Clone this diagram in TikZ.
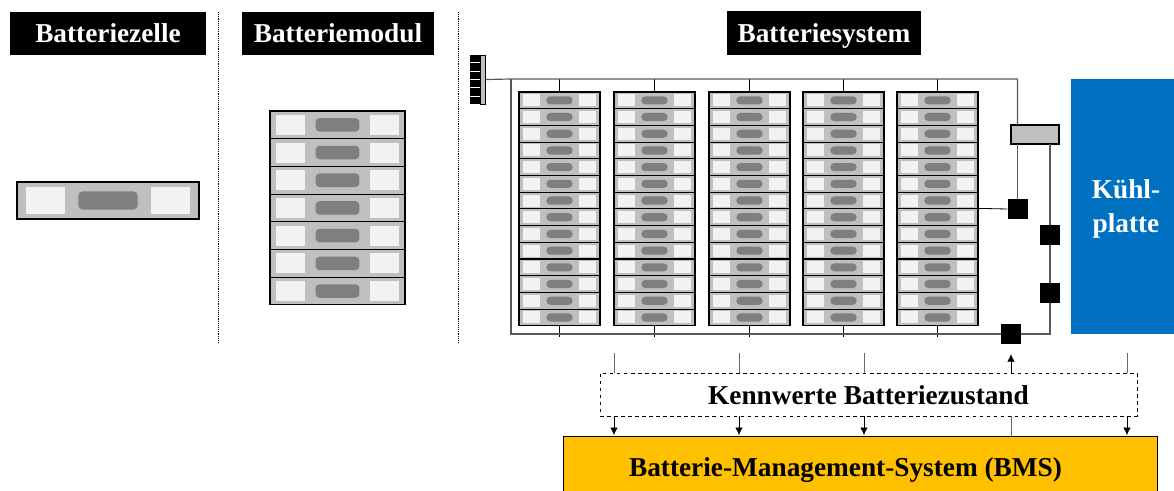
\documentclass[tikz,border=0pt]{standalone}
\usepackage{fontspec}
\setmainfont{Liberation Serif}
\usepackage{xcolor}
\usetikzlibrary{positioning,calc,arrows.meta}
\definecolor{cellgray}{HTML}{BFBFBF}
\definecolor{tabgray}{HTML}{F2F2F2}
\definecolor{pillgray}{HTML}{7F7F7F}
\definecolor{plateblue}{HTML}{0070C0}
\definecolor{bmsyellow}{HTML}{FFC000}
\tikzset{
  cellbody/.style={rectangle,draw=black,fill=cellgray,line width=0.9pt,inner sep=0pt},
  celltab/.style={rectangle,fill=tabgray,inner sep=0pt},
  cellpill/.style={rectangle,rounded corners=1.2mm,fill=pillgray,inner sep=0pt},
  titlebox/.style={rectangle,fill=black,text=white,font=\fontsize{23.3}{27}\selectfont\bfseries,minimum height=12.9mm,inner sep=0pt,text height=5.5mm,text depth=0.1mm},
  sensor/.style={rectangle,fill=black,minimum width=6mm,minimum height=6mm,inner sep=0pt},
  tooth/.style={rectangle,fill=black,minimum width=3mm,minimum height=2.2mm,inner sep=0pt},
  busline/.style={draw=black!65,line width=1pt},
  stub/.style={draw=black!60,line width=0.5pt},
  tapline/.style={draw=black,line width=0.7pt},
  sigarrow/.style={-{Latex[length=2.2mm,width=2.2mm]},black,line width=0.5pt},
  septline/.style={densely dotted,line width=0.6pt}
}
% name, centre x, centre y, width, height
\newcommand{\battcell}[5]{%
  \node[cellbody,minimum width=#4*0.3mm,minimum height=#5*0.3mm] (#1) at (#2,#3) {};
  \node[celltab,minimum width=#4*0.0645mm,minimum height=#5*0.216mm] (#1l) at ({#2-#4*0.345},#3) {};
  \node[celltab,minimum width=#4*0.0645mm,minimum height=#5*0.216mm] (#1r) at ({#2+#4*0.345},#3) {};
  \node[cellpill,minimum width=#4*0.0975mm,minimum height=#5*0.147mm] (#1p) at (#2,#3) {};
}
\begin{document}
\begin{tikzpicture}[x=0.3mm,y=-0.3mm]
\useasboundingbox (0,0) rectangle (1174,491);
\node[titlebox,minimum width=58.8mm] (titlezelle) at (108,33.5) {Batteriezelle};
\node[titlebox,minimum width=57.6mm] (titlemodul) at (338,33.5) {Batteriemodul};
\node[titlebox,minimum width=58.2mm] (titlesystem) at (824,33) {Batteriesystem};
\coordinate (septAtop) at (218.5,12);
\coordinate (septAbot) at (218.5,343);
\coordinate (septBtop) at (458,12);
\coordinate (septBbot) at (458,343);
\draw[septline] (septAtop) -- (septAbot);
\draw[septline] (septBtop) -- (septBbot);
\battcell{single}{108}{200.5}{182}{37}
\foreach \r in {1,...,7} {
    \battcell{mod\r}{337.5}{{111+(\r-0.5)*27.7}}{135}{27.7}
}
\foreach \c/\x in {1/559.5,2/654.5,3/749.5,4/843.5,5/937.5} {
    \foreach \r in {1,...,14} {
        \battcell{sys\c-\r}{\x}{{92+(\r-0.5)*16.7}}{81}{16.7}
    }
    \coordinate (bustop\c) at (\x,79);
    \coordinate (busbot\c) at (\x,337);
    \draw[tapline] (bustop\c) -- (sys\c-1.north);
    \draw[tapline] (sys\c-14.south) -- (busbot\c);
}
\foreach \t in {1,...,6} {
    \node[tooth] (tooth\t) at (475,{58.5+(\t-1)*8.4}) {};
}
\node[rectangle,draw=black,fill=cellgray,line width=0.8pt,minimum width=1.6mm,minimum height=14.7mm,inner sep=0pt] (plugbar) at (483,79.5) {};
\node[rectangle,draw=black,fill=cellgray,line width=1pt,minimum width=14.4mm,minimum height=5.7mm,inner sep=0pt] (coolbox) at (1035,134.5) {};
\node[rectangle,fill=plateblue,minimum width=30.9mm,minimum height=76.5mm,inner sep=0pt] (plate) at (1122.5,206.5) {};
\node[text=white,align=center,font=\fontsize{23.3}{29}\selectfont\bfseries,inner sep=0pt] (platetext) at (1126,208.5) {Kühl-\\platte};
\node[sensor] (sensA) at (1017.5,209) {};
\node[sensor] (sensB) at (1050,235) {};
\node[sensor] (sensC) at (1050,293) {};
\node[sensor] (sensD) at (1011,334) {};
\coordinate (busleft) at (511,79);
\coordinate (busleftb) at (511,334);
\coordinate (buscorner) at (1017.5,79);
\coordinate (coolin) at (1017.5,125);
\coordinate (coolout) at (1017.5,144);
\coordinate (busright) at (1050,334);
\coordinate (coolret) at (1050,144);
\draw[busline] (plugbar.east) -- (busleft) -- (buscorner) -- (coolin);
\draw[busline] (busleft) -- (busleftb) -- (sensD.west);
\draw[busline] (sensD.east) -- (busright) -- (sensC.south);
\draw[busline] (sensC.north) -- (sensB.south);
\draw[busline] (sensB.north) -- (coolret);
\draw[busline] (coolout) -- (sensA.north);
\draw[tapline] (sys5-8.north east) -- (sensA.west);
\node[rectangle,draw=black,dashed,line width=0.6pt,font=\fontsize{23.3}{27}\selectfont\bfseries,minimum width=161.1mm,minimum height=12.9mm,inner sep=0pt,text height=6.1mm,text depth=0.1mm] (kennwerte) at (868.5,394.5) {Kennwerte Batteriezustand};
\node[rectangle,draw=black,fill=bmsyellow,line width=0.8pt,minimum width=178.2mm,minimum height=17.4mm,inner sep=0pt] (bms) at (860,465) {};
\node (bmstext) at (845.5,470) [font=\fontsize{23.3}{27}\selectfont\bfseries] {Batterie-Management-System (BMS)};
\foreach \i/\x in {1/614,2/739,3/864,4/1127} {
    \coordinate (instub\i) at (\x,353);
    \coordinate (inbox\i) at (\x,373);
    \coordinate (outbox\i) at (\x,416);
    \coordinate (inbms\i) at (\x,435);
    \draw[stub] (instub\i) -- (inbox\i);
    \draw[sigarrow] (outbox\i) -- (inbms\i);
}
\coordinate (upbox) at (1011,373);
\coordinate (upbms) at (1011,416);
\coordinate (upbmsend) at (1011,436);
\draw[sigarrow,shorten >=3mm] (upbox) -- (sensD.south);
\draw[stub] (upbms) -- (upbmsend);
\end{tikzpicture}
\end{document}
